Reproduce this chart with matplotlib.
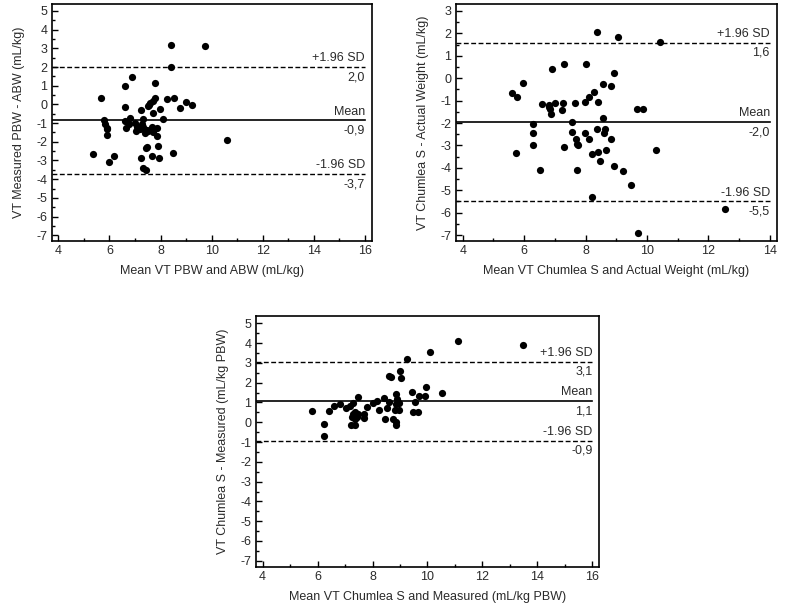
import matplotlib
matplotlib.use("Agg")
import matplotlib.pyplot as plt
import matplotlib.ticker as mticker

plt.rcParams["font.family"] = ["Liberation Sans", "DejaVu Sans"]
plt.rcParams["axes.unicode_minus"] = False

# Panel 1: VT measured PBW vs ABW
p1_x = [8.42, 9.73, 8.42, 6.88, 6.59, 7.77, 5.67, 6.60, 7.79, 8.27, 8.52, 8.75, 8.98, 9.23,
        7.70, 7.60, 7.49, 7.24, 7.99, 7.71, 7.55,
        5.80, 5.83, 5.90, 5.92, 5.90,
        6.59, 6.63, 6.81, 6.75, 7.01, 7.07, 7.05, 7.20, 7.33, 7.27, 7.47, 7.50, 7.31,
        7.66, 7.86, 7.86, 8.09, 7.40, 7.70,
        5.36, 6.18, 6.00, 7.23, 7.47, 7.44, 7.66, 7.90, 7.95, 8.49, 7.31, 7.44, 10.60]
p1_y = [3.18, 3.13, 2.00, 1.45, 0.99, 1.17, 0.37, -0.15, 0.33, 0.30, 0.37, -0.19, 0.12, -0.03,
        0.17, 0.06, -0.08, -0.29, -0.24, -0.44, -0.02,
        -0.83, -1.04, -1.24, -1.33, -1.63,
        -0.87, -1.24, -0.74, -1.04, -0.97, -1.19, -1.40, -1.31, -1.19, -1.05, -1.36, -1.44, -0.79,
        -1.19, -1.28, -1.68, -0.79, -1.52, -1.50,
        -2.63, -2.74, -3.06, -2.88, -2.26, -2.32, -2.75, -2.22, -2.84, -2.61, -3.41, -3.50, -1.90]
p1_lines = [2.0, -0.86, -3.72]
p1_values = ["2,0", "-0,9", "-3,7"]

# Panel 2: VT Chumlea S vs actual weight
p2_x = [5.60, 5.78, 5.97, 5.73, 6.90, 7.31, 8.02, 8.38, 9.07, 10.43, 8.93, 8.56, 8.82, 8.28,
        8.12, 7.99, 8.40, 7.65, 7.26, 7.01, 6.81, 6.58, 6.84, 6.86, 7.22, 6.80,
        6.28, 6.30, 6.30, 6.52, 7.31, 7.56, 7.56, 7.68, 7.73, 7.75, 7.73,
        7.97, 8.12, 8.36, 8.58, 8.64, 8.61, 8.82, 8.41, 8.21, 8.65, 8.47, 8.91, 8.22,
        9.67, 9.88, 9.22, 9.49, 10.30, 12.54, 9.72]
p2_y = [-0.65, -0.83, -0.20, -3.33, 0.40, 0.63, 0.63, 2.08, 1.85, 1.63, 0.22, -0.26, -0.35, -0.60,
        -0.85, -1.06, -1.06, -1.09, -1.12, -1.12, -1.18, -1.15, -1.39, -1.61, -1.42, -1.30,
        -2.03, -2.46, -3.00, -4.10, -3.06, -1.96, -2.39, -2.73, -2.94, -3.00, -4.10,
        -2.43, -2.70, -2.28, -1.79, -2.28, -2.46, -2.70, -3.29, -3.40, -3.20, -3.68, -3.92, -5.30,
        -1.36, -1.36, -4.14, -4.78, -3.19, -5.82, -6.90]
p2_lines = [1.59, -1.96, -5.50]
p2_values = ["1,6", "-2,0", "-5,5"]

# Panel 3: VT Chumlea S vs measured
p3_x = [5.81, 6.24, 6.24, 6.42, 6.59, 6.81, 7.05, 7.18, 7.20, 7.38, 7.30, 7.48, 7.24, 7.29,
        7.38, 7.44, 7.35, 7.48, 7.68, 7.68, 7.79, 8.03, 8.17, 8.24, 8.41, 8.46, 8.51, 8.60,
        8.61, 8.69, 8.76, 8.84, 8.87, 8.88, 8.87, 8.82, 8.87, 8.97, 8.99, 9.05, 9.24, 9.45,
        9.54, 9.47, 9.66, 9.68, 9.90, 9.96, 10.08, 10.53, 11.11, 13.48, 8.95]
p3_y = [0.56, -0.07, -0.68, 0.57, 0.80, 0.91, 0.70, 0.83, -0.15, -0.15, 0.96, 1.30, 0.28, 0.42,
        0.53, 0.28, 0.15, 0.40, 0.40, 0.22, 0.77, 0.96, 1.06, 0.64, 1.21, 0.15, 0.73, 1.02,
        2.33, 2.30, 0.15, -0.12, 1.42, 1.20, 0.90, 0.62, 0.03, 0.96, 2.58, 2.22, 3.19, 1.54,
        1.03, 0.53, 0.53, 1.32, 1.34, 1.80, 3.55, 1.48, 4.09, 3.90, 0.60]
p3_lines = [3.07, 1.07, -0.93]
p3_values = ["3,1", "1,1", "-0,9"]

line_names = ["+1.96 SD", "Mean", "-1.96 SD"]
text_color = "#2a2a2a"


def bland_altman(ax, x, y, lines, values, xlim, ylim, xmax_line, xlabel, ylabel):
    ax.scatter(x, y, s=27, color="black", zorder=3, linewidths=0)
    for level, name, val in zip(lines, line_names, values):
        ls = "-" if name == "Mean" else (0, (3.5, 1.8))
        lw = 1.2 if name == "Mean" else 1.0
        ax.plot([xlim[0], xmax_line], [level, level], color="black", linestyle=ls, linewidth=lw)
        ax.annotate(name, (xmax_line, level), xytext=(0, 2), textcoords="offset points",
                    ha="right", va="bottom", fontsize=9, color=text_color)
        ax.annotate(val, (xmax_line, level), xytext=(0, -3), textcoords="offset points",
                    ha="right", va="top", fontsize=9, color=text_color)
    ax.set_xlim(*xlim)
    ax.set_ylim(*ylim)
    ax.xaxis.set_major_locator(mticker.MultipleLocator(2))
    ax.xaxis.set_minor_locator(mticker.MultipleLocator(1))
    ax.yaxis.set_major_locator(mticker.MultipleLocator(1))
    ax.yaxis.set_minor_locator(mticker.MultipleLocator(0.5))
    ax.tick_params(which="both", direction="in", top=False, right=False,
                   labelsize=9, labelcolor=text_color, width=1)
    ax.tick_params(which="major", length=4.5, pad=3)
    ax.tick_params(which="minor", length=2.2)
    for sp in ax.spines.values():
        sp.set_linewidth(1.2)
    ax.set_xlabel(xlabel, fontsize=9, color=text_color, labelpad=6)
    ax.set_ylabel(ylabel, fontsize=9, color=text_color, labelpad=8)


def main() -> None:
    fig = plt.figure(figsize=(7.87, 6.16), dpi=100)

    ax1 = fig.add_axes([0.0657, 0.6093, 0.4066, 0.3838])
    bland_altman(ax1, p1_x, p1_y, p1_lines, p1_values, (3.74, 16.26), (-7.29, 5.36), 16,
                 "Mean VT PBW and ABW (mL/kg)", "VT Measured PBW - ABW (mL/kg)")

    ax2 = fig.add_axes([0.579, 0.6093, 0.4079, 0.3838])
    bland_altman(ax2, p2_x, p2_y, p2_lines, p2_values, (3.77, 14.22), (-7.25, 3.3), 14,
                 "Mean VT Chumlea S and Actual Weight (mL/kg)", "VT Chumlea S - Actual Weight (mL/kg)")

    ax3 = fig.add_axes([0.3249, 0.08, 0.4362, 0.407])
    bland_altman(ax3, p3_x, p3_y, p3_lines, p3_values, (3.75, 16.24), (-7.3, 5.37), 16,
                 "Mean VT Chumlea S and Measured (mL/kg PBW)", "VT Chumlea S - Measured (mL/kg PBW)")

    fig.savefig("out.png", dpi=100)


if __name__ == "__main__":
    main()
